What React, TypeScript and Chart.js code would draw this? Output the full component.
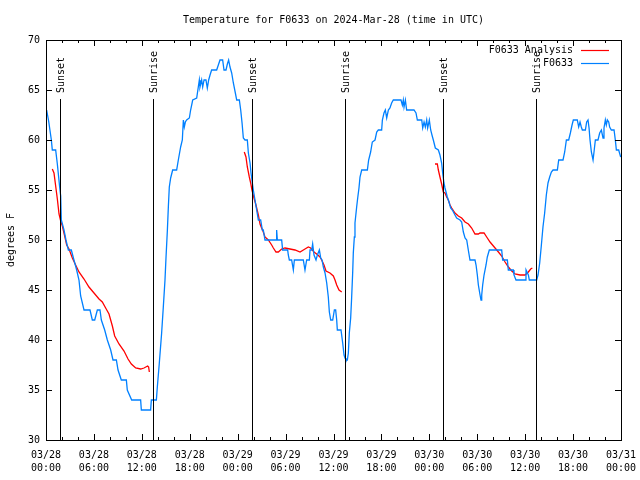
import React, { useEffect, useRef } from "react";
import { Chart, registerables } from "chart.js";

Chart.register(...registerables);

const titleText = "Temperature for F0633 on 2024-Mar-28 (time in UTC)";
const yAxisTitle = "degrees F";

// hours since 03/28 00:00 UTC
const xTickLabels = [
  ["03/28", "00:00"], ["03/28", "06:00"], ["03/28", "12:00"], ["03/28", "18:00"],
  ["03/29", "00:00"], ["03/29", "06:00"], ["03/29", "12:00"], ["03/29", "18:00"],
  ["03/30", "00:00"], ["03/30", "06:00"], ["03/30", "12:00"], ["03/30", "18:00"],
  ["03/31", "00:00"],
];

const sunHours = [1.75, 13.44, 25.8, 37.48, 49.75, 61.39];
const sunLabels = ["Sunset", "Sunrise", "Sunset", "Sunrise", "Sunset", "Sunrise"];

const obsLabel = "F0633";
const blueHours = [
  0.08, 0.33, 0.67, 0.79, 1.21, 1.42, 1.71, 1.84, 1.92, 2.25, 2.5, 2.8, 3.17, 3.5, 3.84, 4.13, 4.34, 4.76,
  5.51, 5.8, 6.1, 6.43, 6.76, 6.93, 7.35, 7.68, 8.1, 8.39, 8.81, 9.02, 9.43, 10.06, 10.18, 10.73, 11.85,
  11.94, 13.1, 13.19, 13.82, 13.94, 14.19, 14.48, 14.69, 14.9, 15.03, 15.2, 15.32, 15.44, 15.61, 15.86,
  16.36, 16.57, 16.86, 17.07, 17.2, 17.32, 17.45, 17.61, 17.95, 18.11, 18.37, 18.87, 19.07, 19.2, 19.28,
  19.49, 19.62, 19.79, 20.03, 20.2, 20.37, 20.54, 20.74, 21.37, 21.58, 21.79, 22.12, 22.29, 22.54, 22.71,
  22.87, 23.04, 23.25, 23.46, 23.71, 23.88, 24.21, 24.38, 24.55, 24.71, 24.92, 25.21, 25.34, 25.55, 25.67,
  25.84, 25.96, 26.17, 26.38, 26.59, 26.88, 27.09, 27.21, 27.42, 28.8, 28.88, 28.97, 29.51, 29.63, 30.26,
  30.34, 30.47, 30.76, 30.97, 31.1, 32.22, 32.43, 32.64, 32.98, 33.06, 33.27, 33.39, 33.56, 33.81, 33.98,
  34.23, 34.4, 34.56, 34.73, 34.94, 35.15, 35.35, 35.48, 35.65, 35.9, 36.11, 36.27, 36.4, 36.48, 36.94,
  37.15, 37.32, 37.44, 37.56, 37.73, 37.86, 37.98, 38.15, 38.27, 38.4, 38.48, 38.61, 38.69, 38.9, 39.03,
  39.19, 39.32, 39.53, 40.24, 40.4, 40.65, 40.86, 41.2, 41.41, 41.61, 42.03, 42.12, 42.32, 42.49, 42.66,
  42.87, 43.07, 43.28, 43.49, 44.45, 44.62, 44.74, 44.83, 45.0, 45.16, 46.08, 46.33, 46.5, 47.05, 47.17,
  47.34, 47.5, 47.67, 47.79, 48.0, 48.17, 48.33, 48.5, 48.75, 49.13, 49.33, 49.54, 49.67, 49.83, 49.96,
  50.09, 50.25, 50.46, 50.67, 50.88, 51.21, 51.42, 51.84, 52.05, 52.26, 52.47, 52.68, 52.88, 53.09, 53.72,
  53.85, 54.01, 54.14, 54.35, 54.47, 54.56, 54.68, 54.85, 55.1, 55.26, 55.51, 57.06, 57.18, 57.77, 57.89,
  58.52, 58.6, 58.85, 60.1, 60.11, 60.4, 60.52, 61.44, 61.61, 61.82, 62.03, 62.23, 62.44, 62.65, 62.86,
  63.07, 63.28, 63.49, 64.03, 64.2, 64.74, 64.95, 65.16, 65.45, 65.66, 65.87, 66.03, 66.53, 66.7, 66.87,
  67.03, 67.16, 67.54, 67.7, 67.87, 68.0, 68.12, 68.29, 68.5, 68.62, 68.79, 69.12, 69.33, 69.54, 69.75,
  69.87, 70.04, 70.16, 70.29, 70.46, 70.58, 70.79, 71.13, 71.29, 71.42, 71.71, 71.96,
];
const blueTemps = [
  63, 61.9, 60, 59, 59, 57.6, 55.3, 54.4, 52, 51, 50, 49, 49, 48, 47, 46, 44.4, 43,
  43, 42, 42, 43, 43, 42, 41, 40, 39, 38, 38, 37, 36, 36, 35, 34, 34,
  33, 33, 34, 34, 35.3, 37.7, 40.7, 43.3, 46, 48.3, 51, 53.3, 55.3, 56.2, 57,
  57, 58, 59.3, 60, 62, 61.3, 61.8, 62, 62.2, 63, 64, 64.2, 65.3, 66, 65.3,
  66, 65.3, 66, 66, 65.2, 66, 66.5, 67, 67, 67.5, 68, 68, 67, 67, 67.6,
  68, 67.3, 66.7, 65.7, 64.7, 64, 64, 63, 61.7, 60.2, 60, 60, 58.7, 57.7, 56.7,
  55.7, 55, 54, 53, 52, 52, 51, 51, 50, 50, 51, 50, 50, 49, 49,
  48.5, 48, 48, 47, 48, 48, 47, 48, 48, 49, 49, 49.6, 48.5, 48, 48.5,
  49, 48.2, 48, 47.3, 46.7, 45.7, 44.3, 42.8, 42, 42, 43, 43, 42, 41, 41,
  39.7, 38.5, 38.2, 38, 38, 38.7, 40.7, 42.2, 44.2, 46.7, 48.7, 50.3, 51.7, 53.3, 54.2,
  55.2, 56.3, 57, 57, 58, 58.8, 59.8, 60, 60.8, 61, 61, 62, 62.7, 63, 62.2,
  63, 63.2, 63.7, 64, 64, 63.5, 64, 63.3, 64, 63, 63, 62.7, 62, 62, 61.2,
  61.8, 61.3, 62, 61.2, 62, 61, 60.5, 60, 59.2, 59, 58.5, 57.7, 56.7, 55.7, 55.2,
  54.8, 54.3, 53.8, 53.2, 53, 52.5, 52.2, 52, 51.8, 50.8, 50.2, 50, 49, 48, 48,
  47.5, 46.5, 45.5, 44.5, 44, 44.5, 45.5, 46.5, 47.5, 48.3, 49, 49, 48, 48, 47,
  47, 46.5, 46, 46, 47, 46.5, 46, 46, 46.5, 47.7, 49.5, 51.3, 52.7, 54.5, 55.7,
  56.3, 56.8, 57, 57, 58, 58, 58.8, 60, 60, 60.7, 61.5, 62, 62, 61.3, 61.8,
  61.3, 61, 61, 61.8, 62, 61.2, 60, 58.8, 58, 58.8, 60, 60, 60.7, 61, 60.2,
  61.2, 62, 61.5, 62, 61.8, 61.3, 61, 61, 60, 59, 59, 58.3,
];

const anaLabel = "F0633 Analysis";
const redHours = [
  0.79, 1.0, 1.21, 1.42, 1.63, 1.84, 2.05, 2.34, 2.59, 2.88, 3.3, 3.71, 4.13, 4.76, 5.38, 6.01, 6.64,
  7.05, 7.47, 7.89, 8.31, 8.6, 9.14, 9.77, 10.27, 10.69, 11.23, 11.85, 12.27, 12.73, 12.85, 12.94, 13.0,
  24.83, 25.04, 25.21, 25.46, 25.63, 25.79, 26.04, 26.29, 26.59, 26.8, 27.0, 27.21, 27.42, 27.84, 28.26,
  28.47, 28.8, 29.09, 29.51, 29.93, 30.55, 31.18, 31.81, 32.43, 32.85, 33.14, 33.56, 33.89, 34.31, 34.52,
  34.81, 35.06, 35.56, 35.98, 36.19, 36.4, 36.69, 37.03, 37.1,
  48.71, 49.0, 49.13, 49.33, 49.54, 49.75, 49.96, 50.17, 50.38, 50.59, 50.8, 51.21, 51.63, 52.05, 52.47,
  52.89, 53.3, 53.72, 54.14, 54.35, 54.85, 55.18, 55.6, 56.23, 56.65, 57.06, 57.48, 57.9, 58.32, 58.73,
  59.36, 59.99, 60.4, 60.69, 60.9,
];
const redTemps = [
  57.1, 56.7, 55.4, 54.1, 52.6, 51.9, 51.4, 50.4, 49.5, 49.1, 48.2, 47.5, 46.8, 46.1, 45.3, 44.7, 44.1,
  43.8, 43.2, 42.6, 41.4, 40.4, 39.6, 38.9, 38.1, 37.6, 37.2, 37.1, 37.2, 37.4, 37.3, 36.8, null,
  58.8, 58.3, 57.3, 56.3, 55.7, 55, 54.2, 53.5, 52.5, 51.6, 51.2, 50.8, 50.3, 50, 49.5,
  49.2, 48.8, 48.8, 49.1, 49.2, 49.1, 49, 48.8, 49.1, 49.3, 49.2, 48.8, 48.6, 48.3, 48,
  47.5, 46.9, 46.7, 46.4, 46, 45.5, 45, 44.8, null,
  57.6, 57.6, 57, 56.3, 55.6, 54.8, 54.7, 54.3, 54, 53.5, 53.2, 52.7, 52.4, 52.2, 51.8,
  51.6, 51.2, 50.6, 50.6, 50.7, 50.7, 50.3, 49.8, 49.2, 48.8, 48.4, 47.8, 47.3, 46.9, 46.6,
  46.5, 46.5, 46.8, 47.1, 47.2,
];

const FONT = "DejaVu Sans Mono";
const BLUE = "#0080ff";
const RED = "#ff0000";

const gnuplotPlugin = {
  id: "gnuplotFrame",
  afterDatasetsDraw(chart: any) {
    const { ctx, chartArea: a, scales } = chart;
    const x = scales.x;
    const y = scales.y;
    ctx.save();
    ctx.strokeStyle = "#000";
    ctx.fillStyle = "#000";
    ctx.lineWidth = 1;
    ctx.font = `10px "${FONT}"`;

    // sunrise / sunset markers
    sunHours.forEach((h, i) => {
      const px = Math.round(x.getPixelForValue(h)) + 0.5;
      ctx.beginPath();
      ctx.moveTo(px, a.top + 59);
      ctx.lineTo(px, a.bottom);
      ctx.stroke();
      ctx.save();
      ctx.translate(px + 1, a.top + 53);
      ctx.rotate(-Math.PI / 2);
      ctx.textAlign = "left";
      ctx.textBaseline = "middle";
      ctx.fillText(sunLabels[i], 0, 0);
      ctx.restore();
    });

    // frame
    ctx.strokeRect(a.left + 0.5, a.top + 0.5, a.right - a.left, a.bottom - a.top);

    // x ticks (inward, bottom & top)
    for (let h = 0; h <= 72; h += 2) {
      const px = Math.round(x.getPixelForValue(h)) + 0.5;
      const len = h % 6 === 0 ? 6 : 3;
      ctx.beginPath();
      ctx.moveTo(px, a.bottom);
      ctx.lineTo(px, a.bottom - len);
      ctx.moveTo(px, a.top);
      ctx.lineTo(px, a.top + len);
      ctx.stroke();
    }
    // y ticks (inward, left & right)
    for (let v = 30; v <= 70; v += 5) {
      const py = Math.round(y.getPixelForValue(v)) + 0.5;
      ctx.beginPath();
      ctx.moveTo(a.left, py);
      ctx.lineTo(a.left + 6, py);
      ctx.moveTo(a.right, py);
      ctx.lineTo(a.right - 6, py);
      ctx.stroke();
    }

    // legend (gnuplot style: text then line sample)
    const rows = [
      { label: anaLabel, color: RED },
      { label: obsLabel, color: BLUE },
    ];
    rows.forEach((r, i) => {
      const ly = a.top + 10 + i * 13;
      ctx.fillStyle = "#000";
      ctx.textAlign = "right";
      ctx.textBaseline = "middle";
      ctx.fillText(r.label, a.right - 48, ly);
      ctx.strokeStyle = r.color;
      ctx.lineWidth = 1.2;
      ctx.beginPath();
      ctx.moveTo(a.right - 40, Math.round(ly) + 0.5);
      ctx.lineTo(a.right - 12, Math.round(ly) + 0.5);
      ctx.stroke();
    });

    // title
    ctx.fillStyle = "#000";
    ctx.textAlign = "center";
    ctx.textBaseline = "middle";
    ctx.fillText(titleText, (a.left + a.right) / 2, 20);
    ctx.restore();
  },
};

export default function App() {
  const ref = useRef<HTMLCanvasElement | null>(null);
  useEffect(() => {
    if (!ref.current) return;
    const blueData = blueHours.map((h, i) => ({ x: h, y: blueTemps[i] }));
    const redData = redHours.map((h, i) => ({ x: h, y: redTemps[i] }));
    const chart = new Chart(ref.current, {
      type: "line",
      data: {
        datasets: [
          {
            label: obsLabel,
            data: blueData,
            borderColor: BLUE,
            borderWidth: 1.3,
            pointRadius: 0,
            tension: 0,
          },
          {
            label: anaLabel,
            data: redData,
            borderColor: RED,
            borderWidth: 1.3,
            pointRadius: 0,
            tension: 0,
            spanGaps: false,
          },
        ],
      },
      options: {
        animation: false,
        responsive: false,
        maintainAspectRatio: false,
        devicePixelRatio: 1,
        layout: { padding: { left: 0, right: 19, top: 40, bottom: 0 } },
        plugins: {
          legend: { display: false },
          tooltip: { enabled: false },
          title: { display: false },
        },
        scales: {
          x: {
            type: "linear",
            min: 0,
            max: 72,
            grid: { display: false, drawTicks: false },
            border: { display: false },
            ticks: {
              stepSize: 6,
              autoSkip: false,
              maxRotation: 0,
              padding: 9,
              color: "#000",
              font: { family: FONT, size: 10, lineHeight: 1.3 },
              callback: (v: any) => xTickLabels[Math.round(Number(v) / 6)] || "",
            },
            afterFit: (s: any) => {
              s.height = 40;
              s.paddingLeft = 0;
              s.paddingRight = 0;
            },
          },
          y: {
            min: 30,
            max: 70,
            grid: { display: false, drawTicks: false },
            border: { display: false },
            ticks: {
              stepSize: 5,
              padding: 6,
              color: "#000",
              font: { family: FONT, size: 10 },
            },
            title: {
              display: true,
              text: yAxisTitle,
              color: "#000",
              font: { family: FONT, size: 10 },
              padding: { top: 5, bottom: 0 },
            },
            afterFit: (s: any) => {
              s.width = 46;
              s.paddingTop = 0;
              s.paddingBottom = 0;
            },
          },
        },
      },
      plugins: [gnuplotPlugin],
    } as any);
    return () => chart.destroy();
  }, []);
  return (
    <div style={{ position: "fixed", left: 0, top: 0, width: 640, height: 480, background: "#fff" }}>
      <canvas ref={ref} width={640} height={480} />
    </div>
  );
}
